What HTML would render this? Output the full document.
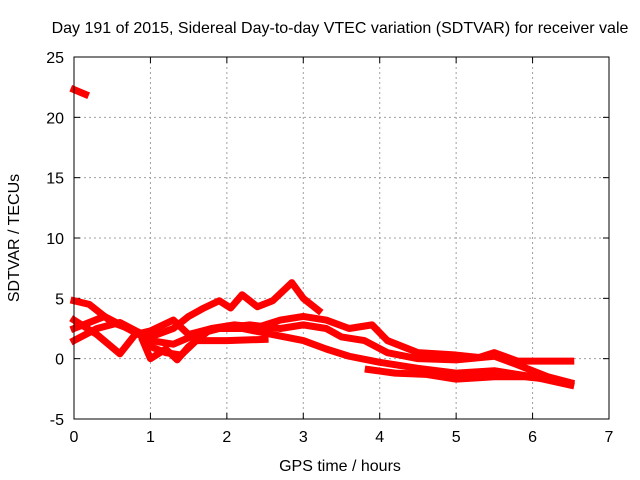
<!DOCTYPE html>
<html><head><meta charset="utf-8"><style>
body{margin:0;background:#fff}
svg{display:block;font-family:"Liberation Sans",sans-serif}
</style></head><body>
<svg id="c" width="640" height="480">
<rect width="640" height="480" fill="#fff"/>
<text x="340" y="33" text-anchor="middle" font-size="16">Day 191 of 2015, Sidereal Day-to-day VTEC variation (SDTVAR) for receiver vale</text>
<text x="340" y="471" text-anchor="middle" font-size="16">GPS time / hours</text>
<text transform="translate(19,238) rotate(-90)" text-anchor="middle" font-size="16">SDTVAR / TECUs</text>
<g id="grid"></g><g id="data"></g>
<rect x="74" y="57" width="535" height="362" fill="none" stroke="#000"/>
</svg>
<script>
const xTicks=[0,1,2,3,4,5,6,7];
const yTicks=[-5,0,5,10,15,20,25];
const s1=[[0,4.8],[0.2,4.5],[0.5,3],[0.8,2.3],[1,1.8],[1.3,2.5],[1.5,3.5],[1.7,4.2],[1.9,4.8],[2.05,4.2],[2.2,5.3],[2.4,4.3],[2.6,4.8],[2.85,6.3],[3.0,5],[3.2,4]];
const s2=[[0,3.2],[0.3,2],[0.6,0.4],[0.8,2],[1,2.3],[1.3,3.2],[1.5,2],[1.8,2.5],[2.1,2.8],[2.4,2.6],[2.7,3.2],[3,3.5],[3.3,3.2],[3.6,2.5],[3.9,2.8],[4.1,1.5],[4.5,0.5],[5,0.3],[5.3,0.1],[5.5,0.5],[5.8,-0.2],[6.2,-0.2],[6.5,-0.2]];
const s3=[[0,2.5],[0.4,3.5],[0.7,2.5],[1,1.5],[1.3,1.2],[1.6,2],[1.9,2.5],[2.3,2.8],[2.7,2.5],[3,2.8],[3.3,2.5],[3.5,1.8],[3.8,1.5],[4.1,0.5],[4.5,0],[5,-0.1],[5.5,0.2],[5.8,-0.5],[6.2,-1.5],[6.5,-2]];
const s4=[[0,1.5],[0.3,2.5],[0.6,3],[0.9,2],[1,1],[1.2,0.5],[1.4,0.3],[1.6,1.5],[2,1.5],[2.5,1.6]];
const s5=[[0.9,1.5],[1.0,0],[1.2,0.8],[1.35,-0.1],[1.5,1],[1.8,2.5],[2.2,2.5],[2.6,2],[3,1.5],[3.3,0.8],[3.6,0.2],[4,-0.3],[4.5,-0.8],[5,-1.2],[5.5,-1],[6,-1.5],[6.5,-2.2]];
const s6=[[3.85,-0.9],[4.2,-1.2],[4.6,-1.3],[5,-1.7],[5.5,-1.5],[5.9,-1.5],[6.2,-1.7]];
const s7=[[0,22.3],[0.15,21.9]];
const series=[s1,s2,s3,s4,s5,s6,s7];
const X=v=>74+v*535/7, Y=v=>419-(v+5)*362/30;
const NS="http://www.w3.org/2000/svg";
const g=document.getElementById('grid'), d=document.getElementById('data');
function mk(t,a,p){const e=document.createElementNS(NS,t);for(const k in a)e.setAttribute(k,a[k]);(p||g).appendChild(e);return e;}
xTicks.forEach(t=>{const x=X(t);
 if(t>0&&t<7){const l=mk('line',{x1:x,x2:x,y1:57,y2:419,stroke:'#a0a0a0','stroke-dasharray':'2,3'});
 
 }
 mk('line',{x1:x,x2:x,y1:419,y2:413,stroke:'#000'});mk('line',{x1:x,x2:x,y1:57,y2:63,stroke:'#000'});
 const tx=mk('text',{x:x,y:442,'text-anchor':'middle','font-size':'16'});tx.textContent=t;
 
 });
yTicks.forEach(t=>{const y=Y(t);
 if(t>-5&&t<25){const l=mk('line',{x1:74,x2:609,y1:y,y2:y,stroke:'#a0a0a0','stroke-dasharray':'2,3'});
 
 }
 mk('line',{x1:74,x2:80,y1:y,y2:y,stroke:'#000'});mk('line',{x1:609,x2:603,y1:y,y2:y,stroke:'#000'});
 const tx=mk('text',{x:64,y:y+6,'text-anchor':'end','font-size':'16'});tx.textContent=t;
 
 });
series.forEach((s,i)=>{const p=mk('polyline',{points:s.map(q=>X(q[0])+','+Y(q[1])).join(' '),fill:'none',stroke:'#ff0000','stroke-width':7,'stroke-linejoin':'round','stroke-linecap':'square'},d);
 
 });
</script>
</body></html>
